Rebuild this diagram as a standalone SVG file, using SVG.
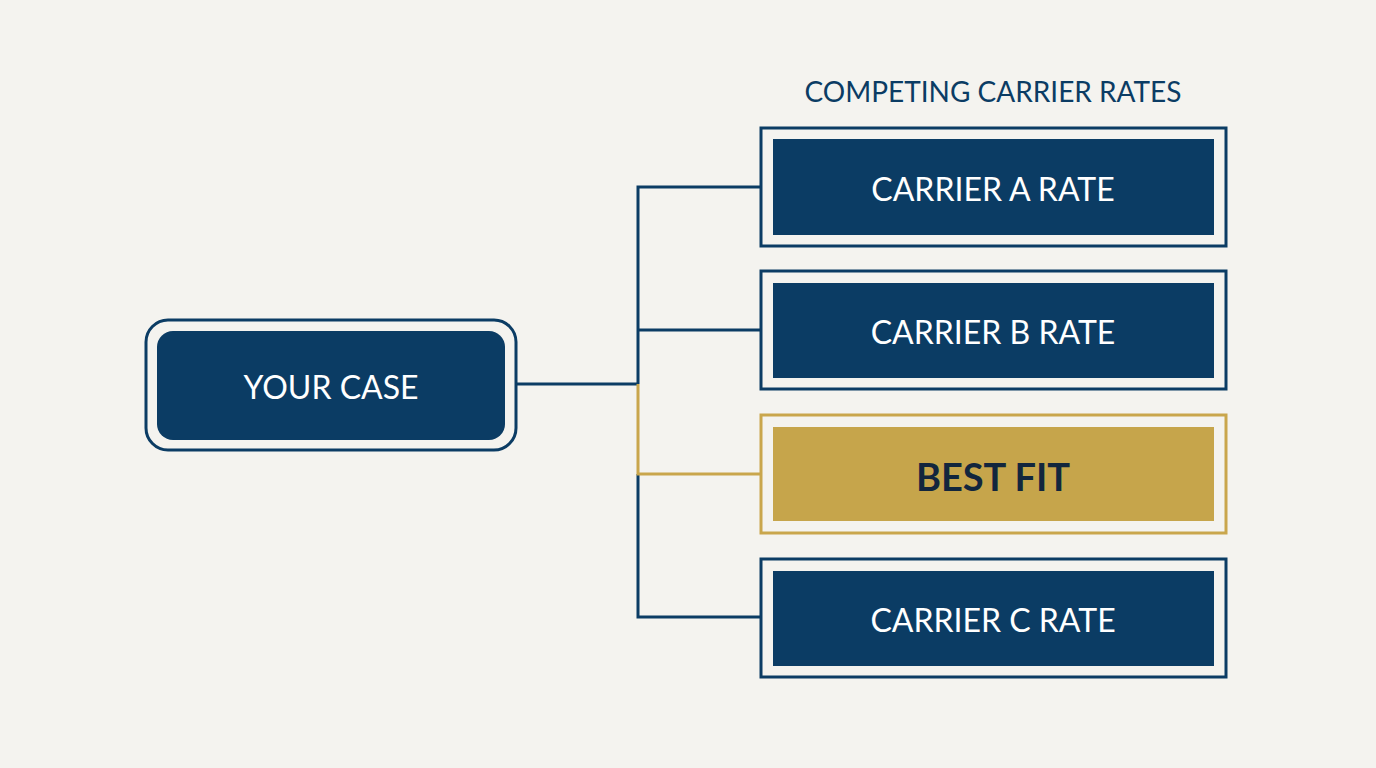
<svg xmlns="http://www.w3.org/2000/svg" width="1376" height="768" viewBox="0 0 1376 768">
<style>
.o{fill:none;stroke:#0b3c64;stroke-width:3}
.i{fill:#0b3c64}
.og{fill:none;stroke:#c9a64c;stroke-width:3}
.ig{fill:#c6a54b}
.t{font-family:Lato,"Liberation Sans",sans-serif;fill:#fff;font-size:32px;text-anchor:middle;dominant-baseline:central}
.c{fill:none;stroke:#0b3c64;stroke-width:3}
.cg{fill:none;stroke:#c9a64c;stroke-width:3}
</style>
<rect width="1376" height="768" fill="#f4f3ef"/>
<text x="993" y="91" font-family="Lato,'Liberation Sans',sans-serif" font-size="28" fill="#0b3c64" text-anchor="middle" dominant-baseline="central">COMPETING CARRIER RATES</text>
<g id="connectors">
<path class="c" d="M516 384H638M638 384V187H761M638 330H761M638 474V617H761"/>
<path class="cg" d="M638 384V474H761"/>
</g>
<g id="your-case">
<rect class="o" x="146" y="320" width="370" height="130" rx="22"/>
<rect class="i" x="157" y="331" width="348" height="109" rx="16"/>
<text class="t" x="331" y="386" font-size="40">YOUR CASE</text>
</g>
<g id="carrier-a">
<rect class="o" x="761" y="128" width="465" height="118"/>
<rect class="i" x="773" y="139" width="441" height="96"/>
<text class="t" x="993" y="188">CARRIER A RATE</text>
</g>
<g id="carrier-b">
<rect class="o" x="761" y="271" width="465" height="118"/>
<rect class="i" x="773" y="283" width="441" height="95"/>
<text class="t" x="993" y="331">CARRIER B RATE</text>
</g>
<g id="best-fit">
<rect class="og" x="761" y="415" width="465" height="118"/>
<rect class="ig" x="773" y="427" width="441" height="94"/>
<text class="t" x="993" y="476" style="fill:#12263d;font-weight:bold;font-size:38px">BEST FIT</text>
</g>
<g id="carrier-c">
<rect class="o" x="761" y="559" width="465" height="118"/>
<rect class="i" x="773" y="571" width="441" height="95"/>
<text class="t" x="993" y="619">CARRIER C RATE</text>
</g>
</svg>
